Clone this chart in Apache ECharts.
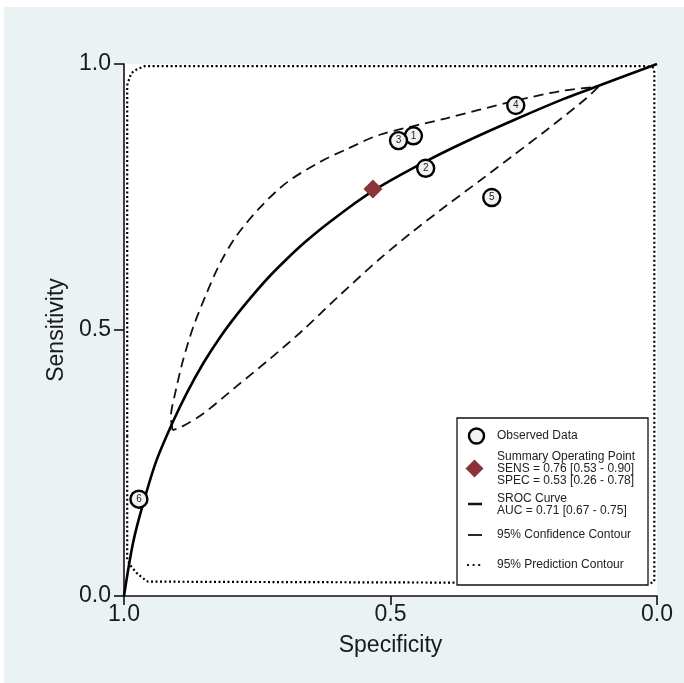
<!DOCTYPE html>
<html>
<head>
<meta charset="utf-8">
<script src="https://cdn.jsdelivr.net/npm/echarts@6/dist/echarts.min.js"></script>
<style>
html,body{margin:0;padding:0;background:#fff;}
#chart{width:684px;height:683px;}
</style>
</head>
<body>
<div id="chart"></div>
<script>
// ---- data ----
const studyIds = [1, 2, 3, 4, 5, 6];
const obsSpec = [0.457, 0.434, 0.485, 0.265, 0.310, 0.972];
const obsSens = [0.865, 0.804, 0.856, 0.922, 0.749, 0.182];

const summarySpec = [0.533];
const summarySens = [0.765];

const srocSpec = [1.0, 0.983, 0.964, 0.939, 0.9075, 0.882, 0.851, 0.820, 0.789, 0.757, 0.726, 0.695, 0.664, 0.632, 0.601, 0.570, 0.532, 0.482, 0.432, 0.363, 0.263, 0.176, 0.107, 0.0];
const srocSens = [0.0, 0.100, 0.174, 0.255, 0.329, 0.382, 0.438, 0.486, 0.528, 0.567, 0.602, 0.633, 0.662, 0.689, 0.713, 0.736, 0.762, 0.791, 0.818, 0.852, 0.897, 0.934, 0.960, 1.0];

const confUpperSpec = [0.909, 0.912, 0.904, 0.889, 0.870, 0.845, 0.820, 0.789, 0.745, 0.695, 0.632, 0.582, 0.520, 0.395, 0.270, 0.176, 0.110];
const confUpperSens = [0.312, 0.337, 0.381, 0.444, 0.506, 0.569, 0.625, 0.677, 0.730, 0.777, 0.816, 0.840, 0.867, 0.898, 0.930, 0.950, 0.957];
const confLowerSpec = [0.110, 0.132, 0.207, 0.270, 0.332, 0.395, 0.457, 0.520, 0.601, 0.664, 0.726, 0.789, 0.851, 0.892, 0.909];
const confLowerSens = [0.957, 0.936, 0.876, 0.828, 0.781, 0.734, 0.686, 0.634, 0.560, 0.500, 0.446, 0.394, 0.343, 0.318, 0.312];

const predSpec = [0.994, 0.994, 0.990, 0.986, 0.976, 0.961, 0.020, 0.008, 0.005, 0.005, 0.007, 0.020, 0.955, 0.964, 0.976, 0.986, 0.994, 0.994];
const predSens = [0.300, 0.960, 0.973, 0.983, 0.990, 0.996, 0.996, 0.994, 0.985, 0.030, 0.025, 0.024, 0.027, 0.033, 0.043, 0.055, 0.068, 0.300];

const xTicks = ['1.0', '0.5', '0.0'];
const legendTexts = [
  ['Observed Data'],
  ['Summary Operating Point', 'SENS = 0.76 [0.53 - 0.90]', 'SPEC = 0.53 [0.26 - 0.78]'],
  ['SROC Curve', 'AUC = 0.71 [0.67 - 0.75]'],
  ['95% Confidence Contour'],
  ['95% Prediction Contour']
];

// ---- build ----
const zip = (a, b) => a.map((v, i) => [v, b[i]]);
const FONT = '"Liberation Sans", Arial, Helvetica, sans-serif';
const chart = echarts.init(document.getElementById('chart'), null, {renderer: 'canvas'});

const gx = 124, gy = 64, gw = 533, gh = 532;

const legendX = 457, legendY = 418, legendW = 191, legendH = 167;
const textX = 497;
const graphic = [
  {type: 'rect', shape: {x: 0, y: 0, width: 684, height: 7}, style: {fill: '#ffffff'}, z: 1, silent: true},
  {type: 'rect', shape: {x: 0, y: 0, width: 4, height: 683}, style: {fill: '#ffffff'}, z: 1, silent: true},
  {type: 'rect', shape: {x: legendX, y: legendY, width: legendW, height: legendH}, style: {fill: '#ffffff', stroke: '#111', lineWidth: 1.3}, z: 50},
  {type: 'circle', shape: {cx: 476.5, cy: 436, r: 7.5}, style: {fill: '#f2f2f2', stroke: '#000', lineWidth: 2.4}, z: 51},
  {type: 'polygon', shape: {points: [[474.5, 459.5], [483.5, 468.5], [474.5, 477.5], [465.5, 468.5]]}, style: {fill: '#8b3339'}, z: 51},
  {type: 'line', shape: {x1: 468, y1: 504, x2: 482, y2: 504}, style: {stroke: '#111', lineWidth: 2.5}, z: 51},
  {type: 'line', shape: {x1: 468, y1: 535, x2: 482, y2: 535}, style: {stroke: '#111', lineWidth: 1.8}, z: 51},
  {type: 'rect', shape: {x: 467, y: 564, width: 2, height: 2}, style: {fill: '#111'}, z: 51},
  {type: 'rect', shape: {x: 472.6, y: 564, width: 2, height: 2}, style: {fill: '#111'}, z: 51},
  {type: 'rect', shape: {x: 478.2, y: 564, width: 2, height: 2}, style: {fill: '#111'}, z: 51}
];
const lineYs = [[436], [456.5, 468.5, 480.5], [499, 510.5], [535], [565]];
legendTexts.forEach((group, gi) => {
  group.forEach((t, li) => {
    graphic.push({type: 'text', x: textX, y: lineYs[gi][li], z: 52,
      style: {text: t, fill: '#222', font: '12px ' + FONT, verticalAlign: 'middle', textVerticalAlign: 'middle'}});
  });
});

const option = {
  animation: false,
  backgroundColor: '#eaf2f3',
  grid: {left: gx, top: gy, width: gw, height: gh, show: true, backgroundColor: '#ffffff', borderWidth: 0},
  xAxis: {
    type: 'value', min: 0, max: 1, interval: 0.5, inverse: true,
    name: 'Specificity', nameLocation: 'middle', nameGap: 38,
    nameTextStyle: {fontFamily: FONT, fontSize: 23, color: '#1a1a1a'},
    axisLine: {show: true, onZero: false, lineStyle: {color: '#111', width: 1.6}},
    axisTick: {show: true, length: 9, lineStyle: {color: '#111', width: 1.6}},
    axisLabel: {fontFamily: FONT, fontSize: 23, color: '#1a1a1a', margin: 7, formatter: v => xTicks[Math.round((1 - v) * 2)]},
    splitLine: {show: false}
  },
  yAxis: {
    type: 'value', min: 0, max: 1, interval: 0.5,
    name: 'Sensitivity', nameLocation: 'middle', nameGap: 55,
    nameTextStyle: {fontFamily: FONT, fontSize: 23, color: '#1a1a1a'},
    axisLine: {show: true, onZero: false, lineStyle: {color: '#111', width: 1.6}},
    axisTick: {show: true, length: 10, lineStyle: {color: '#111', width: 1.6}},
    axisLabel: {fontFamily: FONT, fontSize: 23, color: '#1a1a1a', margin: 13, formatter: v => v.toFixed(1)},
    splitLine: {show: false}
  },
  series: [
    {type: 'line', name: 'pred', data: zip(predSpec, predSens), showSymbol: false, smooth: false, z: 2,
      lineStyle: {color: '#000', width: 2.2, type: [2, 2.5], cap: 'butt'}},
    {type: 'line', name: 'confU', data: zip(confUpperSpec, confUpperSens), showSymbol: false, smooth: 0.3, z: 3,
      lineStyle: {color: '#111', width: 1.8, type: [10, 6]}},
    {type: 'line', name: 'confL', data: zip(confLowerSpec, confLowerSens), showSymbol: false, smooth: 0.3, z: 3,
      lineStyle: {color: '#111', width: 1.8, type: [10, 6]}},
    {type: 'line', name: 'sroc', data: zip(srocSpec, srocSens), showSymbol: false, smooth: 0.3, z: 4,
      lineStyle: {color: '#000', width: 2.6}},
    {type: 'scatter', name: 'obs', data: obsSpec.map((v, i) => [v, obsSens[i], studyIds[i]]), symbol: 'circle', symbolSize: 17, z: 5,
      itemStyle: {color: '#f2f2f2', borderColor: '#000', borderWidth: 2.4, opacity: 1},
      label: {show: true, position: 'inside', formatter: p => String(p.data[2]), fontFamily: FONT, fontSize: 10, color: '#222'}},
    {type: 'scatter', name: 'summary', data: zip(summarySpec, summarySens), symbol: 'diamond', symbolSize: 19, z: 6,
      itemStyle: {color: '#8b3339', opacity: 1}}
  ],
  graphic: graphic
};
chart.setOption(option);
</script>
</body>
</html>
